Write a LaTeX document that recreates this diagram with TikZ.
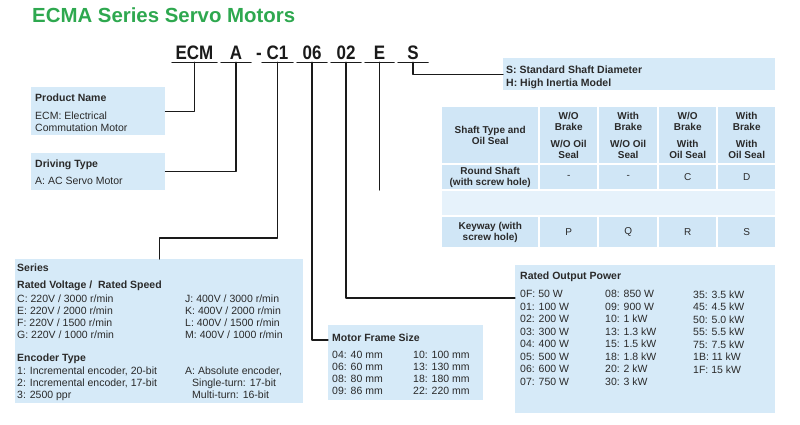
\documentclass[tikz,border=0pt]{standalone}
\usepackage{fontspec}
\setmainfont{Liberation Sans}
\newfontfamily\codefont[FakeStretch=0.87]{Liberation Sans}
\usepackage{xcolor}
\usepackage{tikz}
\usetikzlibrary{calc}
\definecolor{green}{HTML}{2EA84F}
\definecolor{pale}{HTML}{D6EAF8}
\definecolor{cell}{HTML}{D0E6F6}
\definecolor{wash}{HTML}{E6F2FB}
\definecolor{ink}{HTML}{2A2A2A}
\definecolor{line}{HTML}{1A1A1A}

\begin{document}
\begin{tikzpicture}[x=1pt,y=-1pt,line cap=round,line join=round,
  code/.style={font=\codefont\fontsize{19.5}{19.5}\selectfont\bfseries,text=line,inner sep=0,text depth=3pt,anchor=base},
  box/.style={fill=pale,inner sep=0,anchor=north west},
  txt/.style={font=\fontsize{10.5}{12}\selectfont,text=ink,inner sep=0,anchor=north west,align=left,yshift=7.6pt},
  cellbox/.style={fill=cell,inner sep=0,anchor=north west,text=ink,align=center,
    font=\fontsize{10}{10.5}\selectfont\bfseries},
  wire/.style={line,line width=1.1pt}]
  \useasboundingbox (0,0) rectangle (800,424);

  % title
  \node[anchor=base west,inner sep=0,text=green,font=\fontsize{20.4}{20.4}\selectfont\bfseries] (title) at (32,22) {ECMA Series Servo Motors};

  % model code
  \node[code,minimum width=45] (ecm) at (194.5,59) {ECM};
  \node[code,minimum width=30] (drv) at (236,59) {A};
  \node[code] (dash) at (259,59) {-};
  \node[code,minimum width=31] (ser) at (277.5,59) {C1};
  \node[code,minimum width=30] (frm) at (312,59) {06};
  \node[code,minimum width=30] (pwr) at (346,59) {02};
  \node[code,minimum width=29] (shf) at (379.5,59) {E};
  \node[code,minimum width=30] (dia) at (413,59) {S};
  \foreach \n in {ecm,drv,ser,frm,pwr,shf,dia}
    \draw[wire] (\n.south west) -- (\n.south east);

  % boxes
  \node[box,minimum width=134,minimum height=48] (prodbox) at (31,87) {};
  \node[txt] (prodtxt) at (35,101) {\textbf{Product Name}\\[6pt]ECM: Electrical\\Commutation Motor};

  \node[box,minimum width=134,minimum height=37] (drvbox) at (31,153) {};
  \node[txt] (drvtxt) at (35,167) {\textbf{Driving Type}\\[5pt]A: AC Servo Motor};

  \node[box,minimum width=272,minimum height=32] (diabox) at (503,58) {};
  \node[txt,font=\fontsize{10.5}{13}\selectfont\bfseries] (diatxt) at (506,73) {S: Standard Shaft Diameter\\H: High Inertia Model};

  \node[box,minimum width=288,minimum height=144] (serbox) at (15,259) {};
  \node[txt] (serhead) at (17,271) {\textbf{Series}\\[5pt]\textbf{Rated Voltage /\ \ Rated Speed}};
  \node[txt] (serleft) at (17,302) {C: 220V / 3000 r/min\\E: 220V / 2000 r/min\\F: 220V / 1500 r/min\\G: 220V / 1000 r/min};
  \node[txt] (serright) at (185,302) {J: 400V / 3000 r/min\\K: 400V / 2000 r/min\\L: 400V / 1500 r/min\\M: 400V / 1000 r/min};
  \node[txt] (enchead) at (17,361) {\textbf{Encoder Type}};
  \node[txt] (encleft) at (17,374) {1: Incremental encoder, 20-bit\\2: Incremental encoder, 17-bit\\3: 2500 ppr};
  \node[txt] (encright) at (185,374) {A: Absolute encoder,\\\hspace{7pt}Single-turn: 17-bit\\\hspace{7pt}Multi-turn: 16-bit};

  \node[box,minimum width=155,minimum height=75] (frmbox) at (328,325) {};
  \node[txt] (frmhead) at (332,341) {\textbf{Motor Frame Size}};
  \node[txt] (frmleft) at (332,359) {04: 40 mm\\06: 60 mm\\08: 80 mm\\09: 86 mm};
  \node[txt] (frmright) at (413,359) {10: 100 mm\\13: 130 mm\\18: 180 mm\\22: 220 mm};

  \node[box,minimum width=260,minimum height=148] (pwrbox) at (515,265) {};
  \node[txt] (pwrhead) at (520,279) {\textbf{Rated Output Power}};
  \node[txt,font=\fontsize{10.5}{12.5}\selectfont] (pwrleft) at (520,298) {0F: 50 W\\01: 100 W\\02: 200 W\\03: 300 W\\04: 400 W\\05: 500 W\\06: 600 W\\07: 750 W};
  \node[txt,font=\fontsize{10.5}{12.5}\selectfont] (pwrmid) at (605,298) {08: 850 W\\09: 900 W\\10: 1 kW\\13: 1.3 kW\\15: 1.5 kW\\18: 1.8 kW\\20: 2 kW\\30: 3 kW};
  \node[txt,font=\fontsize{10.5}{12.5}\selectfont] (pwrright) at (693,298) {35: 3.5 kW\\45: 4.5 kW\\50: 5.0 kW\\55: 5.5 kW\\75: 7.5 kW\\1B: 11 kW\\1F: 15 kW};

  % shaft type table
  \node[cellbox,minimum width=96,minimum height=56] (t11) at (442,107) {Shaft Type and\\Oil Seal};
  \node[cellbox,minimum width=57,minimum height=56] (t12) at (540,107) {W/O\\Brake\\[7pt]W/O Oil\\Seal};
  \node[cellbox,minimum width=58,minimum height=56] (t13) at (599,107) {With\\Brake\\[7pt]W/O Oil\\Seal};
  \node[cellbox,minimum width=57,minimum height=56] (t14) at (659,107) {W/O\\Brake\\[7pt]With\\Oil Seal};
  \node[cellbox,minimum width=57,minimum height=56] (t15) at (718,107) {With\\Brake\\[7pt]With\\Oil Seal};
  \node[cellbox,minimum width=96,minimum height=24] (t21) at (442,165) {Round Shaft\\(with screw hole)};
  \node[cellbox,minimum width=57,minimum height=24,font=\fontsize{10}{10.5}\selectfont] (t22) at (540,165) {-};
  \node[cellbox,minimum width=58,minimum height=24,font=\fontsize{10}{10.5}\selectfont] (t23) at (599,165) {-};
  \node[cellbox,minimum width=57,minimum height=24,font=\fontsize{10}{10.5}\selectfont] (t24) at (659,165) {C};
  \node[cellbox,minimum width=57,minimum height=24,font=\fontsize{10}{10.5}\selectfont] (t25) at (718,165) {D};
  \fill[wash] (442,191) rectangle (775,215);
  \node[cellbox,minimum width=96,minimum height=30] (t41) at (442,217) {Keyway (with\\screw hole)};
  \node[cellbox,minimum width=57,minimum height=30,font=\fontsize{10}{10.5}\selectfont] (t42) at (540,217) {P};
  \node[cellbox,minimum width=58,minimum height=30,font=\fontsize{10}{10.5}\selectfont] (t43) at (599,217) {Q};
  \node[cellbox,minimum width=57,minimum height=30,font=\fontsize{10}{10.5}\selectfont] (t44) at (659,217) {R};
  \node[cellbox,minimum width=57,minimum height=30,font=\fontsize{10}{10.5}\selectfont] (t45) at (718,217) {S};

  % connectors
  \coordinate (eend) at (379.5,190);
  \draw[wire] (ecm.south) |- (prodbox.east);
  \draw[wire] (drv.south) |- (drvbox.east);
  \draw[wire] (ser.south) |- ($(serbox.north)+(0,-21)$) -- (serbox.north);
  \draw[wire] (frm.south) |- ($(frmbox.north west)+(0,15)$);
  \draw[wire] (pwr.south) |- ($(pwrbox.north west)+(0,33)$);
  \draw[wire] (shf.south) -- (eend);
  \draw[wire] (dia.south) |- (diabox.west);
\end{tikzpicture}
\end{document}
